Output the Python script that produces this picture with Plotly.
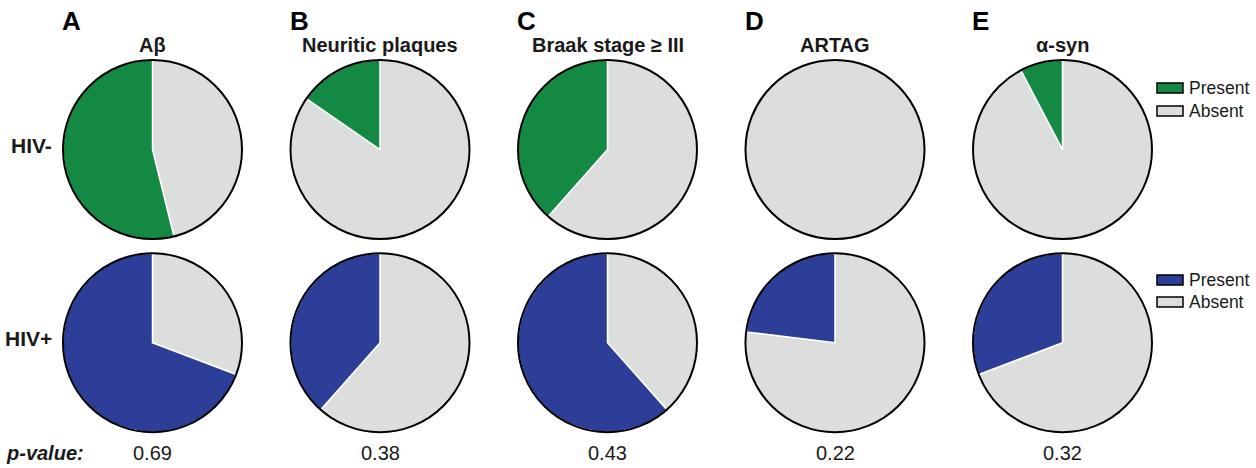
import plotly.graph_objects as go

# Case counts per neuropathology measure (Present out of group total)
panels = ["A", "B", "C", "D", "E"]
titles = ["Aβ", "Neuritic plaques", "Braak stage ≥ III", "ARTAG", "α-syn"]
hiv_neg_present = [7, 2, 5, 0, 1]
hiv_pos_present = [9, 5, 8, 3, 4]
n_hiv_neg = 13
n_hiv_pos = 13
p_values = ["0.69", "0.38", "0.43", "0.22", "0.32"]
row_labels = ["HIV-", "HIV+"]
slice_labels = ["Present", "Absent"]

W, H = 1256, 468
GREEN = "#138943"
BLUE = "#2D3E98"
GRAY = "#DCDDDD"
FONT = "Liberation Sans, Arial, Helvetica, sans-serif"
TXT = "#1a1a1a"

col_cx = [152.5, 380, 607.5, 835, 1062.5]
row_cy = [149.5, 342.7]
R = 89.5


def X(px):
    return px / W


def Y(py):
    return 1 - py / H


def domain(cx, cy):
    return dict(x=[X(cx - R), X(cx + R)], y=[Y(cy + R), Y(cy - R)])


fig = go.Figure()

rows = [
    (hiv_neg_present, n_hiv_neg, GREEN),
    (hiv_pos_present, n_hiv_pos, BLUE),
]

for r, (present, n, color) in enumerate(rows):
    for c in range(len(panels)):
        dom = domain(col_cx[c], row_cy[r])
        vals = [n - present[c], present[c]]
        # no separator stroke on empty slices
        widths = [1.5 if v > 0 else 0 for v in vals]
        edge = "white" if min(vals) > 0 else GRAY
        # Absent runs clockwise from 12 o'clock, so Present closes on the left side
        fig.add_trace(go.Pie(
            labels=[slice_labels[1], slice_labels[0]],
            values=vals,
            domain=dom,
            sort=False,
            direction="clockwise",
            rotation=0,
            textinfo="none",
            marker=dict(colors=[GRAY, color], line=dict(color=edge, width=widths)),
            showlegend=False,
            hoverinfo="label+value+percent",
        ))
        # black outer rim
        fig.add_trace(go.Pie(
            labels=["all"],
            values=[1],
            domain=dom,
            textinfo="none",
            marker=dict(colors=["rgba(0,0,0,0)"], line=dict(color="black", width=2)),
            showlegend=False,
            hoverinfo="skip",
        ))

annotations = []
shapes = []

for c in range(len(panels)):
    cx = col_cx[c]
    annotations.append(dict(
        x=X(cx - R - 3), y=Y(21), xanchor="left", yanchor="middle",
        text=f"<b>{panels[c]}</b>", showarrow=False,
        font=dict(family=FONT, size=26, color="black"),
    ))
    annotations.append(dict(
        x=X(cx), y=Y(45.5), xanchor="center", yanchor="middle",
        text=f"<b>{titles[c]}</b>", showarrow=False,
        font=dict(family=FONT, size=20, color=TXT),
    ))
    annotations.append(dict(
        x=X(cx), y=Y(453), xanchor="center", yanchor="middle",
        text=p_values[c], showarrow=False,
        font=dict(family=FONT, size=20, color=TXT),
    ))

for r, lab in enumerate(row_labels):
    annotations.append(dict(
        x=X(54), y=Y([145, 338][r]), xanchor="right", yanchor="middle",
        text=f"<b>{lab}</b>", showarrow=False,
        font=dict(family=FONT, size=21, color=TXT),
    ))

annotations.append(dict(
    x=X(4), y=Y(453), xanchor="left", yanchor="middle",
    text="<b><i>p-value:</i></b>", showarrow=False,
    font=dict(family=FONT, size=20, color=TXT),
))

# Legend keys for each row
legend_rows = [([88, 111], GREEN), ([280, 302], BLUE)]
for ys, color in legend_rows:
    for yc, fill, lab in zip(ys, [color, GRAY], slice_labels):
        shapes.append(dict(
            type="rect", xref="paper", yref="paper",
            x0=X(1157), x1=X(1183), y0=Y(yc + 5), y1=Y(yc - 5),
            fillcolor=fill, line=dict(color="black", width=1.5),
        ))
        annotations.append(dict(
            x=X(1187), y=Y(yc), xanchor="left", yanchor="middle",
            text=lab, showarrow=False,
            font=dict(family=FONT, size=17.5, color=TXT),
        ))

fig.update_layout(
    width=W, height=H,
    margin=dict(l=0, r=0, t=0, b=0),
    paper_bgcolor="white",
    plot_bgcolor="white",
    showlegend=False,
    annotations=annotations,
    shapes=shapes,
)

fig.write_html("out.html")
